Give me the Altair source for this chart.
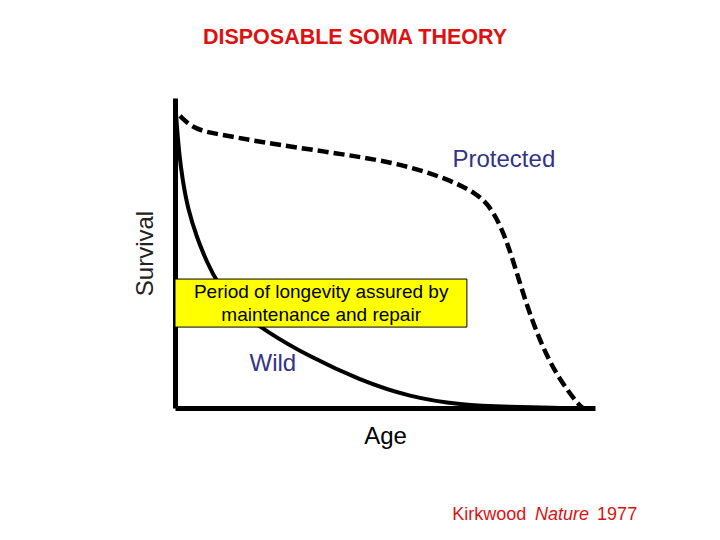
import altair as alt
import pandas as pd

# survival curves (age 0-100, survival 0-100)
prot_age = [1.2, 4.0, 7.9, 13.6, 20.2, 36.2, 51.9, 63.8, 71.9, 75.7, 79.0, 82.1, 85.2, 88.6, 91.7, 95.7, 97.1]
prot_surv = [94.2, 90.6, 88.8, 87.6, 85.8, 82.6, 79.4, 74.5, 69.4, 63.9, 54.2, 40.3, 27.4, 16.5, 9.0, 1.6, 0.0]

wild_age = [0.0, 0.5, 1.0, 1.8, 3.1, 5.2, 7.6, 10.2, 15.0, 21.9, 32.1, 44.0, 56.0, 67.9, 79.8, 91.7]
wild_surv = [99.4, 90.0, 82.0, 73.5, 64.0, 55.0, 47.0, 40.0, 31.5, 24.5, 16.5, 9.0, 3.5, 1.0, 0.3, 0.0]

box_lines = ["Period of longevity assured by", "maintenance and repair"]
box_line_x = [34.8, 34.8]
box_line_y = [37.4, 30.0]

labels = ["Protected", "Wild"]
label_x = [78.3, 23.3]
label_y = [80.0, 14.2]

cite_parts = ["Kirkwood", "Nature", "1977"]
cite_x = [66.0, 85.7, 100.5]
cite_y = [-34.5, -34.5, -34.5]
cite_style = ["normal", "italic", "normal"]

RED = "#dd1111"
NAVY = "#333388"

xs = alt.Scale(domain=[0, 100], nice=False)
ys = alt.Scale(domain=[0, 100], nice=False)

prot_df = pd.DataFrame({"age": prot_age, "surv": prot_surv})
wild_df = pd.DataFrame({"age": wild_age, "surv": wild_surv})

base_axes = alt.Chart(wild_df).mark_point(opacity=0).encode(
    x=alt.X("age:Q", scale=xs,
            axis=alt.Axis(title="Age", labels=False, ticks=False, grid=False,
                          domainColor="black", domainWidth=5,
                          titleFontSize=24, titleFont="Liberation Sans",
                          titleFontWeight="normal", titlePadding=16,
                          titleColor="black")),
    y=alt.Y("surv:Q", scale=ys,
            axis=alt.Axis(title="Survival", labels=False, ticks=False, grid=False,
                          domainColor="black", domainWidth=5,
                          titleFontSize=24, titleFont="Liberation Sans",
                          titleFontWeight="normal", titlePadding=18,
                          titleColor="#222222")),
)

protected = alt.Chart(prot_df).mark_line(
    color="black", strokeWidth=4.5, strokeDash=[11, 5], interpolate="basis"
).encode(x=alt.X("age:Q", scale=xs), y=alt.Y("surv:Q", scale=ys))

wild = alt.Chart(wild_df).mark_line(
    color="black", strokeWidth=4, interpolate="basis"
).encode(x=alt.X("age:Q", scale=xs), y=alt.Y("surv:Q", scale=ys))

box = alt.Chart(pd.DataFrame({"x": [0.0], "x2": [69.5], "y": [41.6], "y2": [26.1]})).mark_rect(
    fill="#ffff00", stroke="black", strokeWidth=1
).encode(x=alt.X("x:Q", scale=xs), x2="x2", y=alt.Y("y:Q", scale=ys), y2="y2")

box_text = alt.Chart(pd.DataFrame({"t": box_lines, "x": box_line_x, "y": box_line_y})).mark_text(
    fontSize=19, font="Liberation Sans", color="black", align="center", baseline="middle"
).encode(x=alt.X("x:Q", scale=xs), y=alt.Y("y:Q", scale=ys), text="t:N")

label_text = alt.Chart(pd.DataFrame({"t": labels, "x": label_x, "y": label_y})).mark_text(
    fontSize=24, font="Liberation Sans", color=NAVY, align="center", baseline="middle"
).encode(x=alt.X("x:Q", scale=xs), y=alt.Y("y:Q", scale=ys), text="t:N")

cite_df = pd.DataFrame({"t": cite_parts, "x": cite_x, "y": cite_y, "s": cite_style})
cite_normal = alt.Chart(cite_df[cite_df.s == "normal"]).mark_text(
    fontSize=18, font="Liberation Sans", color=RED, align="left", baseline="middle", clip=False
).encode(x=alt.X("x:Q", scale=xs), y=alt.Y("y:Q", scale=ys), text="t:N")
cite_italic = alt.Chart(cite_df[cite_df.s == "italic"]).mark_text(
    fontSize=18, font="Liberation Sans", fontStyle="italic", color=RED, align="left",
    baseline="middle", clip=False
).encode(x=alt.X("x:Q", scale=xs), y=alt.Y("y:Q", scale=ys), text="t:N")

chart = alt.layer(
    base_axes, protected, wild, box, box_text, label_text, cite_normal, cite_italic
).properties(
    width=420,
    height=310,
    title=alt.TitleParams("DISPOSABLE SOMA THEORY", color=RED, fontSize=21.5,
                          font="Liberation Sans", fontWeight="bold",
                          anchor="middle", dx=-30, offset=43),
    autosize=alt.AutoSizeParams(type="none"),
    padding={"left": 167, "top": 90, "right": 117, "bottom": 124},
).configure_view(stroke=None)

chart.save("out.html", embed_options={"renderer": "svg", "actions": False})
